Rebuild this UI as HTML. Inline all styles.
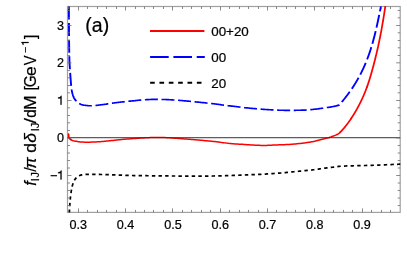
<!DOCTYPE html><html><head><meta charset="utf-8"><style>
html,body{margin:0;padding:0;background:#fff}
body{width:407px;height:268px;position:relative;overflow:hidden}svg{will-change:transform}
</style></head><body>
<svg width="407" height="268" viewBox="0 0 407 268" style="position:absolute;left:0;top:0">
<defs><clipPath id="c"><rect x="67.00" y="6.00" width="333.70" height="206.90"/></clipPath></defs>
<rect x="67.5" y="6.5" width="332.70" height="205.90" fill="none" stroke="#a0a0a0" stroke-width="1.2"/>
<g clip-path="url(#c)" fill="none" stroke-linejoin="round">
<path d="M69.40 212.40L69.44 211.40L69.48 210.40L69.53 209.40L69.58 208.40L69.64 207.40L69.71 206.40L69.77 205.40L69.84 204.40L69.92 203.40L69.99 202.41L70.07 201.41L70.16 200.41L70.25 199.42L70.35 198.42L70.45 197.42L70.57 196.43L70.68 195.43L70.81 194.44L70.94 193.45L71.08 192.46L71.22 191.47L71.38 190.47L71.55 189.48L71.73 188.49L71.94 187.51L72.16 186.53L72.40 185.57L72.67 184.61L72.98 183.64L73.33 182.67L73.72 181.72L74.16 180.80L74.63 179.94L75.14 179.14L75.74 178.36L76.44 177.59L77.22 176.87L78.05 176.26L78.90 175.78L79.78 175.44L80.72 175.14L81.71 174.87L82.73 174.67L83.74 174.53L84.73 174.48L85.72 174.43L86.72 174.40L87.72 174.36L88.73 174.34L89.73 174.32L90.74 174.31L91.74 174.30L92.74 174.30L93.74 174.31L94.74 174.32L95.74 174.34L96.74 174.37L97.75 174.39L98.75 174.42L99.75 174.46L100.75 174.49L101.75 174.52L102.75 174.55L103.75 174.58L104.75 174.61L105.75 174.64L106.75 174.67L107.75 174.70L108.75 174.72L109.75 174.75L110.75 174.78L111.75 174.81L112.75 174.85L113.76 174.88L114.76 174.91L115.76 174.95L116.76 174.99L117.76 175.03L118.76 175.07L119.76 175.12L120.76 175.16L121.76 175.20L122.76 175.24L123.76 175.28L124.76 175.31L125.76 175.34L126.76 175.37L127.76 175.39L128.76 175.42L129.76 175.45L130.76 175.47L131.76 175.49L132.76 175.51L133.76 175.53L134.76 175.55L135.77 175.57L136.77 175.59L137.77 175.60L138.77 175.62L139.77 175.63L140.77 175.64L141.77 175.66L142.77 175.67L143.77 175.68L144.77 175.70L145.77 175.71L146.78 175.72L147.78 175.73L148.78 175.74L149.78 175.75L150.78 175.76L151.78 175.78L152.78 175.79L153.78 175.80L154.78 175.81L155.78 175.82L156.79 175.83L157.79 175.84L158.79 175.85L159.79 175.87L160.79 175.88L161.79 175.89L162.79 175.90L163.79 175.91L164.79 175.92L165.79 175.93L166.79 175.94L167.80 175.95L168.80 175.96L169.80 175.97L170.80 175.98L171.80 175.98L172.80 175.99L173.80 176.00L174.80 176.01L175.80 176.01L176.80 176.02L177.81 176.03L178.81 176.03L179.81 176.04L180.81 176.05L181.81 176.05L182.81 176.06L183.81 176.07L184.81 176.07L185.81 176.08L186.81 176.08L187.82 176.09L188.82 176.09L189.82 176.09L190.82 176.10L191.82 176.10L192.82 176.10L193.82 176.10L194.82 176.10L195.82 176.10L196.82 176.10L197.83 176.10L198.83 176.10L199.83 176.10L200.83 176.10L201.83 176.10L202.83 176.10L203.83 176.10L204.83 176.10L205.83 176.10L206.83 176.09L207.83 176.08L208.84 176.07L209.84 176.06L210.84 176.04L211.84 176.03L212.84 176.01L213.84 175.99L214.84 175.97L215.84 175.95L216.84 175.93L217.84 175.90L218.84 175.88L219.85 175.86L220.85 175.83L221.85 175.81L222.85 175.78L223.85 175.76L224.85 175.73L225.85 175.71L226.85 175.68L227.85 175.65L228.85 175.62L229.85 175.58L230.85 175.55L231.85 175.51L232.85 175.47L233.85 175.43L234.85 175.39L235.85 175.35L236.85 175.31L237.85 175.27L238.85 175.23L239.85 175.19L240.85 175.14L241.85 175.10L242.85 175.06L243.85 175.02L244.85 174.98L245.85 174.94L246.85 174.90L247.86 174.86L248.86 174.81L249.86 174.77L250.86 174.73L251.86 174.69L252.86 174.65L253.86 174.61L254.86 174.56L255.86 174.52L256.86 174.47L257.86 174.43L258.86 174.38L259.86 174.33L260.86 174.29L261.86 174.24L262.86 174.19L263.85 174.13L264.85 174.08L265.85 174.03L266.85 173.97L267.85 173.91L268.85 173.85L269.85 173.78L270.85 173.72L271.85 173.65L272.85 173.58L273.85 173.51L274.84 173.44L275.84 173.37L276.84 173.29L277.84 173.22L278.84 173.14L279.83 173.06L280.83 172.98L281.83 172.90L282.83 172.81L283.82 172.72L284.82 172.64L285.82 172.54L286.81 172.45L287.81 172.35L288.81 172.25L289.80 172.15L290.80 172.05L291.79 171.94L292.79 171.84L293.79 171.74L294.78 171.64L295.78 171.54L296.77 171.44L297.77 171.34L298.77 171.24L299.76 171.14L300.76 171.04L301.75 170.94L302.75 170.84L303.75 170.75L304.74 170.65L305.74 170.55L306.74 170.46L307.73 170.37L308.73 170.27L309.73 170.18L310.72 170.08L311.72 169.98L312.71 169.88L313.71 169.77L314.70 169.65L315.69 169.52L316.68 169.38L317.67 169.23L318.66 169.08L319.65 168.92L320.64 168.76L321.63 168.60L322.62 168.45L323.61 168.31L324.60 168.17L325.60 168.05L326.59 167.93L327.58 167.81L328.58 167.70L329.57 167.58L330.57 167.47L331.56 167.36L332.56 167.24L333.55 167.12L334.54 166.99L335.54 166.86L336.53 166.73L337.52 166.59L338.51 166.44L339.50 166.30L339.50 166.30L340.51 166.25L341.53 166.20L342.54 166.15L343.56 166.10L344.57 166.05L345.59 166.01L346.60 165.97L347.62 165.94L348.63 165.90L349.65 165.87L350.66 165.85L351.68 165.82L352.69 165.79L353.71 165.77L354.72 165.75L355.74 165.72L356.75 165.70L357.77 165.68L358.79 165.66L359.80 165.64L360.82 165.61L361.83 165.59L362.85 165.57L363.86 165.54L364.88 165.52L365.89 165.49L366.91 165.46L367.92 165.43L368.94 165.40L369.95 165.37L370.97 165.33L371.98 165.30L373.00 165.26L374.01 165.23L375.03 165.19L376.04 165.15L377.06 165.11L378.07 165.07L379.09 165.04L380.10 165.00L381.12 164.96L382.13 164.91L383.15 164.87L384.16 164.83L385.18 164.79L386.19 164.75L387.21 164.71L388.22 164.67L389.24 164.63L390.25 164.59L391.27 164.55L392.28 164.50L393.30 164.46L394.31 164.42L395.33 164.37L396.34 164.33L397.36 164.29L398.37 164.24L399.39 164.20L400.40 164.15" stroke="#000" stroke-width="1.7" stroke-dasharray="3.42 3.22" stroke-dashoffset="0.55"/>
<path d="M79.19 103.51L79.85 103.88L80.74 104.26L81.68 104.60L82.67 104.88L83.66 105.11L84.64 105.27L85.63 105.41L86.63 105.55L87.63 105.66L88.63 105.75L89.64 105.79L90.64 105.80L91.64 105.77L91.85 105.75M95.44 105.48L95.64 105.46L96.64 105.37L97.64 105.27L98.63 105.16L99.63 105.04L100.62 104.91L101.62 104.77L102.61 104.63L103.60 104.50L104.60 104.36L105.59 104.22L106.58 104.07L107.57 103.92L108.33 103.80M111.89 103.26L112.53 103.16L113.52 103.02L114.52 102.88L115.51 102.76L116.50 102.63L117.50 102.50L118.50 102.38L119.49 102.26L120.49 102.15L121.48 102.03L122.48 101.92L123.48 101.81L124.47 101.70L124.79 101.67M128.37 101.30L128.46 101.29L129.46 101.19L130.46 101.10L131.46 101.00L132.45 100.91L133.45 100.81L134.45 100.71L135.45 100.62L136.45 100.51L137.44 100.40L138.44 100.30L139.44 100.19L140.44 100.09L141.30 100.01M144.90 99.76L145.43 99.72L146.44 99.67L147.44 99.61L148.44 99.56L149.44 99.52L150.44 99.48L151.45 99.44L152.45 99.42L153.45 99.40L154.45 99.40L155.46 99.40L156.46 99.41L157.46 99.41L157.89 99.42M161.49 99.46L162.48 99.47L163.48 99.49L164.48 99.51L165.48 99.53L166.48 99.56L167.49 99.61L168.49 99.65L169.49 99.71L170.49 99.77L171.49 99.83L172.49 99.89L173.49 99.95L174.47 100.01M178.06 100.26L178.49 100.30L179.49 100.38L180.49 100.46L181.49 100.55L182.49 100.63L183.49 100.72L184.49 100.81L185.49 100.90L186.49 100.99L187.48 101.09L188.48 101.19L189.48 101.29L190.48 101.39L191.01 101.45M194.59 101.81L195.47 101.90L196.46 101.99L197.46 102.09L198.46 102.19L199.46 102.29L200.46 102.39L201.45 102.48L202.45 102.58L203.45 102.68L204.45 102.78L205.44 102.89L206.44 102.99L207.44 103.09L207.53 103.09M211.11 103.46L211.43 103.50L212.43 103.61L213.42 103.72L214.42 103.84L215.41 103.96L216.41 104.10L217.40 104.24L218.39 104.38L219.38 104.52L220.38 104.67L221.37 104.81L222.36 104.95L223.35 105.09L223.99 105.17M227.57 105.62L228.33 105.71L229.33 105.83L230.32 105.94L231.32 106.06L232.31 106.18L233.31 106.29L234.30 106.41L235.30 106.53L236.30 106.65L237.29 106.78L238.29 106.90L239.28 107.02L240.28 107.14L240.48 107.16M244.05 107.57L244.26 107.60L245.26 107.70L246.26 107.81L247.25 107.91L248.25 108.01L249.25 108.12L250.25 108.21L251.24 108.31L252.24 108.40L253.24 108.50L254.24 108.59L255.24 108.67L256.24 108.76L256.99 108.82M260.58 109.11L261.23 109.16L262.23 109.24L263.23 109.31L264.23 109.38L265.23 109.45L266.24 109.52L267.24 109.58L268.24 109.65L269.24 109.71L270.24 109.78L271.24 109.83L272.24 109.89L273.24 109.94L273.55 109.95M277.15 110.11L277.25 110.11L278.25 110.16L279.25 110.20L280.26 110.23L281.26 110.26L282.26 110.28L283.26 110.30L284.27 110.30L285.27 110.30L286.27 110.30L287.27 110.30L288.28 110.30L289.28 110.30L290.15 110.30M293.75 110.30L294.29 110.30L295.29 110.30L296.30 110.29L297.30 110.28L298.30 110.26L299.31 110.24L300.31 110.21L301.31 110.19L302.31 110.16L303.32 110.13L304.32 110.10L305.32 110.06L306.32 110.00L306.74 109.98M310.33 109.69L311.32 109.60L312.32 109.50L313.32 109.40L314.31 109.30L315.31 109.19L316.30 109.07L317.30 108.95L318.29 108.81L319.28 108.67L320.28 108.52L321.27 108.37L322.26 108.22L323.22 108.08M326.79 107.56L327.22 107.49L328.22 107.35L329.21 107.21L330.21 107.06L331.20 106.90L332.19 106.74L333.17 106.56L334.15 106.37L335.13 106.16L336.10 105.93L337.07 105.67L338.04 105.39L339.00 105.10L339.35 104.71" stroke="#0000ff" stroke-width="1.65"/>
<path d="M341.73 102.01L342.33 101.32L342.98 100.55L343.62 99.77L344.26 98.99L344.89 98.21L345.51 97.41L346.13 96.62L346.75 95.82L347.36 95.02L347.96 94.21L348.56 93.40L349.15 92.59L349.74 91.77" stroke="#0000ff" stroke-width="1.80"/>
<path d="M71.59 89.41L71.62 89.64L71.77 90.62L71.95 91.61L72.17 92.60L72.42 93.59L72.71 94.57L73.02 95.53L73.36 96.46L73.73 97.37L74.17 98.25L74.70 99.13L75.30 99.96L75.94 100.73L76.42 101.23M351.79 88.82L352.03 88.46L352.59 87.62L353.15 86.78L353.70 85.93L354.24 85.08L354.77 84.23L355.30 83.37L355.82 82.51L356.34 81.64L356.85 80.78L357.36 79.90L357.85 79.03L358.35 78.15L358.58 77.73M360.28 74.56L360.72 73.71L361.18 72.81L361.63 71.91L362.07 71.00L362.51 70.09L362.94 69.18L363.36 68.27L363.78 67.35L364.19 66.43L364.60 65.51L365.00 64.59L365.39 63.66L365.76 62.78M367.10 59.44L367.27 58.99L367.63 58.04L367.99 57.10L368.33 56.15L368.68 55.21L369.01 54.26L369.34 53.31L369.67 52.35L369.99 51.40L370.31 50.44L370.62 49.48L370.92 48.52L371.22 47.56L371.35 47.15" stroke="#0000ff" stroke-width="1.85"/>
<path d="M68.90 6.50L68.90 7.50L68.90 8.51L68.90 9.51L68.90 10.51L68.91 11.51L68.91 12.52L68.91 13.52L68.92 14.52L68.92 15.52L68.92 16.53L68.93 17.53L68.93 18.53L68.94 19.50M68.96 23.10L68.96 23.55L68.97 24.55L68.97 25.55L68.98 26.55L68.98 27.56L68.99 28.56L69.00 29.56L69.00 30.56L69.01 31.57L69.02 32.57L69.02 33.57L69.03 34.58L69.04 35.58L69.04 36.10M69.07 39.70L69.08 40.59L69.09 41.60L69.10 42.60L69.12 43.60L69.13 44.60L69.14 45.61L69.15 46.61L69.17 47.61L69.18 48.62L69.20 49.62L69.21 50.62L69.23 51.62L69.25 52.63L69.25 52.70M69.32 56.30L69.32 56.63L69.35 57.64L69.37 58.64L69.39 59.64L69.42 60.64L69.46 61.64L69.50 62.64L69.56 63.65L69.62 64.65L69.69 65.65L69.76 66.65L69.83 67.65L69.90 68.65L69.95 69.28M70.18 72.87L70.23 73.65L70.29 74.65L70.36 75.65L70.43 76.65L70.50 77.65L70.58 78.65L70.66 79.65L70.74 80.65L70.82 81.65L70.90 82.66L70.98 83.66L71.06 84.66L71.16 85.67L71.17 85.83M372.38 43.70L372.38 43.70L372.66 42.73L372.93 41.76L373.20 40.79L373.46 39.82L373.72 38.84L373.98 37.87L374.23 36.89L374.48 35.92L374.72 34.94L374.97 33.96L375.21 32.99L375.44 32.01L375.65 31.12M376.47 27.62L376.59 27.10L376.81 26.12L377.03 25.13L377.25 24.15L377.46 23.17L377.67 22.18L377.89 21.20L378.10 20.21L378.30 19.23L378.51 18.24L378.72 17.25L378.93 16.27L379.13 15.28L379.21 14.91M379.94 11.38L379.95 11.33L380.15 10.35L380.35 9.36L380.55 8.37L380.76 7.39L380.96 6.40" stroke="#0000ff" stroke-width="1.90"/>
<path d="M76.12 141.34L76.33 141.38L77.33 141.54L78.33 141.68L79.32 141.78L80.31 141.88L81.31 141.97L82.00 142.02M82.00 142.02L82.31 142.05L83.31 142.11L84.31 142.16L85.31 142.19L86.31 142.20L87.31 142.19L87.91 142.18M87.91 142.18L88.31 142.18L89.31 142.15L90.31 142.13L91.31 142.09L92.31 142.06L93.31 142.02L93.83 142.01M93.83 142.01L94.31 141.99L95.30 141.95L96.30 141.90L97.30 141.84L98.30 141.78L99.30 141.72L99.74 141.69M99.74 141.69L100.30 141.65L101.29 141.58L102.29 141.50L103.29 141.41L104.28 141.32L105.28 141.22L105.63 141.19M105.63 141.19L106.27 141.12L107.27 141.02L108.26 140.92L109.26 140.82L110.25 140.71L111.25 140.61L111.52 140.58M111.52 140.58L112.24 140.50L113.24 140.39L114.23 140.28L115.22 140.17L116.22 140.05L117.21 139.94L117.40 139.92M117.40 139.92L118.21 139.83L119.20 139.73L120.19 139.63L121.19 139.54L122.19 139.45L123.18 139.36L123.29 139.35M123.29 139.35L124.18 139.28L125.18 139.20L126.17 139.12L127.17 139.05L128.17 138.97L129.17 138.90L129.19 138.90M129.19 138.90L130.16 138.82L131.16 138.75L132.16 138.68L133.16 138.61L134.15 138.53L135.09 138.46M135.09 138.46L135.15 138.46L136.15 138.39L137.15 138.32L138.14 138.25L139.14 138.19L140.14 138.12L141.00 138.07M141.00 138.07L141.14 138.06L142.14 138.00L143.13 137.95L144.13 137.90L145.13 137.85L146.13 137.79L146.91 137.75M146.91 137.75L147.13 137.74L148.13 137.69L149.13 137.64L150.13 137.59L151.13 137.56L152.13 137.53L152.82 137.51M152.82 137.51L153.13 137.51L154.13 137.50L155.13 137.50L156.13 137.50L157.13 137.51L158.13 137.52L158.74 137.52M158.74 137.52L159.13 137.53L160.13 137.54L161.13 137.55L162.13 137.57L163.13 137.58L164.13 137.60L164.66 137.61M164.66 137.61L165.13 137.62L166.12 137.65L167.12 137.70L168.12 137.75L169.12 137.81L170.12 137.87L170.57 137.90M170.57 137.90L171.12 137.94L172.12 138.01L173.11 138.07L174.11 138.14L175.11 138.20L176.11 138.27L176.47 138.30M176.47 138.30L177.11 138.34L178.10 138.41L179.10 138.49L180.10 138.57L181.09 138.64L182.09 138.72L182.37 138.74M182.37 138.74L183.09 138.80L184.09 138.88L185.08 138.95L186.08 139.03L187.08 139.11L188.07 139.18L188.27 139.20M188.27 139.20L189.07 139.26L190.07 139.34L191.07 139.42L192.06 139.50L193.06 139.58L194.06 139.66L194.17 139.67M194.17 139.67L195.05 139.75L196.05 139.83L197.05 139.92L198.04 140.01L199.04 140.09L200.03 140.18L200.07 140.19M200.07 140.19L201.03 140.27L202.03 140.36L203.02 140.46L204.02 140.55L205.01 140.64L205.96 140.72M205.96 140.72L206.01 140.73L207.01 140.82L208.00 140.91L209.00 141.00L209.99 141.09L210.99 141.18L211.85 141.27M211.85 141.27L211.98 141.28L212.98 141.38L213.97 141.49L214.97 141.60L215.96 141.72L216.95 141.84L217.73 141.95M217.73 141.95L217.94 141.97L218.93 142.11L219.93 142.24L220.92 142.38L221.91 142.51L222.90 142.64L223.60 142.73M223.60 142.73L223.89 142.76L224.89 142.88L225.88 143.00L226.87 143.13L227.87 143.25L228.86 143.37L229.47 143.44M229.47 143.44L229.85 143.48L230.85 143.59L231.84 143.70L232.84 143.79L233.83 143.87L234.83 143.94L235.36 143.98M235.36 143.98L235.83 144.01L236.82 144.07L237.82 144.12L238.82 144.17L239.82 144.22L240.82 144.27L241.27 144.29M241.27 144.29L241.82 144.31L242.82 144.37L243.82 144.42L244.82 144.48L245.81 144.55L246.81 144.63L247.18 144.65M247.18 144.65L247.81 144.70L248.81 144.78L249.80 144.86L250.80 144.94L251.80 145.01L252.80 145.07L253.08 145.08M253.08 145.08L253.79 145.12L254.79 145.17L255.79 145.21L256.79 145.25L257.79 145.29L258.79 145.33L259.00 145.34M259.00 145.34L259.79 145.36L260.79 145.39L261.79 145.42L262.79 145.44L263.79 145.45L264.79 145.45L264.91 145.45M264.91 145.45L265.79 145.44L266.79 145.41L267.79 145.36L268.79 145.31L269.78 145.26L270.78 145.20L270.82 145.20M270.82 145.20L271.78 145.14L272.78 145.08L273.78 145.03L274.78 144.99L275.78 144.96L276.73 144.93M276.73 144.93L276.78 144.93L277.78 144.90L278.78 144.87L279.78 144.84L280.78 144.82L281.78 144.79L282.65 144.76M282.65 144.76L282.78 144.75L283.78 144.71L284.78 144.67L285.77 144.62L286.77 144.57L287.77 144.51L288.56 144.46M288.56 144.46L288.77 144.45L289.77 144.38L290.77 144.31L291.76 144.24L292.76 144.16L293.76 144.09L294.46 144.03M294.46 144.03L294.75 144.00L295.75 143.91L296.75 143.82L297.74 143.72L298.73 143.61L299.73 143.50L300.35 143.42M300.35 143.42L300.72 143.38L301.72 143.26L302.71 143.14L303.70 143.01L304.69 142.89L305.68 142.75L306.22 142.68M306.22 142.68L306.67 142.61L307.66 142.47L308.65 142.32L309.64 142.16L310.63 142.00L311.61 141.82L312.06 141.74M312.06 141.74L312.60 141.64L313.58 141.45L314.56 141.25L315.53 141.02L316.50 140.79L317.47 140.54L317.84 140.45M317.84 140.45L318.44 140.30L319.41 140.05L320.38 139.81L321.35 139.57L322.32 139.32L323.29 139.08L323.58 139.01M323.58 139.01L324.26 138.84L325.23 138.59L326.20 138.35L327.17 138.10L328.14 137.84L329.09 137.55L329.29 137.48" stroke="#ff0000" stroke-width="1.50" stroke-linecap="round"/>
<path d="M70.57 139.44L70.66 139.51L71.52 140.01L72.46 140.42L73.40 140.72L74.36 140.97L75.34 141.19L76.12 141.34M329.29 137.48L330.04 137.24L330.99 136.92L331.93 136.58L332.87 136.23L333.81 135.87L334.74 135.51L334.85 135.46M334.85 135.46L335.66 135.13L336.58 134.73L337.49 134.32L338.40 133.90L339.13 133.22L339.86 132.52L339.88 132.50" stroke="#ff0000" stroke-width="1.55" stroke-linecap="round"/>
<path d="M339.88 132.50L340.57 131.82L341.27 131.10L341.96 130.38L342.63 129.64L343.30 128.90L343.92 128.18M343.92 128.18L343.96 128.14L344.60 127.37L345.24 126.60L345.87 125.82L346.49 125.03L347.10 124.24L347.62 123.55M347.62 123.55L347.70 123.44L348.29 122.63L348.87 121.82L349.45 121.00L350.02 120.17L350.58 119.34L351.01 118.70" stroke="#ff0000" stroke-width="1.65" stroke-linecap="round"/>
<path d="M68.60 134.20L68.63 135.29L68.72 136.30L68.85 137.23L69.16 138.09L69.86 138.88L70.57 139.44M351.01 118.70L351.13 118.51L351.68 117.67L352.23 116.84L352.77 115.99L353.30 115.14L353.83 114.29L354.18 113.71M354.18 113.71L354.35 113.44L354.87 112.58L355.38 111.72L355.88 110.85L356.38 109.99L356.87 109.11L357.16 108.60M357.16 108.60L357.36 108.24L357.84 107.36L358.31 106.48L358.78 105.60L359.25 104.71L359.70 103.82L359.93 103.37M359.93 103.37L360.16 102.92L360.60 102.03L361.04 101.13L361.47 100.22L361.90 99.32L362.32 98.41L362.49 98.03M362.49 98.03L362.74 97.50L363.15 96.59L363.55 95.67L363.94 94.75L364.33 93.83L364.71 92.90L364.84 92.60M364.84 92.60L365.09 91.97L365.46 91.04L365.82 90.11L366.18 89.18L366.53 88.24L366.88 87.30L366.96 87.08" stroke="#ff0000" stroke-width="1.70" stroke-linecap="round"/>
<path d="M366.96 87.08L367.21 86.36L367.55 85.41L367.87 84.47L368.20 83.52L368.51 82.57L368.82 81.62L368.87 81.48M368.87 81.48L369.13 80.66L369.43 79.71L369.73 78.75L370.02 77.80L370.31 76.84L370.60 75.88L370.61 75.82M370.61 75.82L370.88 74.92L371.15 73.96L371.43 72.99L371.70 72.03L371.97 71.06L372.23 70.13M372.23 70.13L372.23 70.10L372.50 69.13L372.76 68.17L373.02 67.20L373.28 66.23L373.54 65.27L373.76 64.41M373.76 64.41L373.79 64.30L374.04 63.33L374.30 62.36L374.55 61.39L374.79 60.42L375.04 59.45L375.23 58.68M375.23 58.68L375.28 58.48L375.52 57.51L375.76 56.54L376.00 55.56L376.23 54.59L376.47 53.62L376.63 52.93M376.63 52.93L376.70 52.64L376.93 51.67L377.15 50.69L377.38 49.72L377.60 48.74L377.82 47.76L377.95 47.16M377.95 47.16L378.04 46.79L378.25 45.81L378.46 44.83L378.67 43.85L378.88 42.87L379.09 41.89L379.20 41.38M379.20 41.38L379.29 40.91L379.49 39.93L379.69 38.95L379.89 37.97L380.09 36.99L380.28 36.01L380.36 35.57M380.36 35.57L380.47 35.03L380.66 34.04L380.85 33.06L381.04 32.08L381.22 31.09L381.41 30.11L381.47 29.76M381.47 29.76L381.59 29.12L381.77 28.14L381.94 27.15L382.12 26.17L382.29 25.18L382.46 24.19L382.50 23.93M382.50 23.93L382.63 23.21L382.79 22.22L382.96 21.23L383.12 20.25L383.29 19.26L383.45 18.27L383.48 18.10M383.48 18.10L383.61 17.28L383.77 16.29L383.93 15.31L384.09 14.32L384.24 13.33L384.39 12.34L384.41 12.25M384.41 12.25L384.54 11.35L384.70 10.36L384.85 9.37L384.99 8.38L385.14 7.39L385.29 6.40" stroke="#ff0000" stroke-width="1.75" stroke-linecap="round"/>
</g>
<line x1="67.5" y1="137.68" x2="400.2" y2="137.68" stroke="#303030" stroke-opacity="0.78" stroke-width="1.25"/>
<path d="M68.50 212.4v-2.5M68.50 6.5v2.5M78.50 212.4v-4.0M78.50 6.5v4.0M87.50 212.4v-2.5M87.50 6.5v2.5M97.50 212.4v-2.5M97.50 6.5v2.5M106.50 212.4v-2.5M106.50 6.5v2.5M116.50 212.4v-2.5M116.50 6.5v2.5M125.50 212.4v-4.0M125.50 6.5v4.0M135.50 212.4v-2.5M135.50 6.5v2.5M144.50 212.4v-2.5M144.50 6.5v2.5M153.50 212.4v-2.5M153.50 6.5v2.5M163.50 212.4v-2.5M163.50 6.5v2.5M172.50 212.4v-4.0M172.50 6.5v4.0M182.50 212.4v-2.5M182.50 6.5v2.5M191.50 212.4v-2.5M191.50 6.5v2.5M201.50 212.4v-2.5M201.50 6.5v2.5M210.50 212.4v-2.5M210.50 6.5v2.5M220.50 212.4v-4.0M220.50 6.5v4.0M229.50 212.4v-2.5M229.50 6.5v2.5M239.50 212.4v-2.5M239.50 6.5v2.5M248.50 212.4v-2.5M248.50 6.5v2.5M258.50 212.4v-2.5M258.50 6.5v2.5M267.50 212.4v-4.0M267.50 6.5v4.0M276.50 212.4v-2.5M276.50 6.5v2.5M286.50 212.4v-2.5M286.50 6.5v2.5M295.50 212.4v-2.5M295.50 6.5v2.5M305.50 212.4v-2.5M305.50 6.5v2.5M314.50 212.4v-4.0M314.50 6.5v4.0M324.50 212.4v-2.5M324.50 6.5v2.5M333.50 212.4v-2.5M333.50 6.5v2.5M343.50 212.4v-2.5M343.50 6.5v2.5M352.50 212.4v-2.5M352.50 6.5v2.5M362.50 212.4v-4.0M362.50 6.5v4.0M371.50 212.4v-2.5M371.50 6.5v2.5M381.50 212.4v-2.5M381.50 6.5v2.5M390.50 212.4v-2.5M390.50 6.5v2.5M67.5 205.50h2.5M400.2 205.50h-2.5M67.5 198.00h2.5M400.2 198.00h-2.5M67.5 190.50h2.5M400.2 190.50h-2.5M67.5 183.00h2.5M400.2 183.00h-2.5M67.5 175.50h4.0M400.2 175.50h-4.0M67.5 168.00h2.5M400.2 168.00h-2.5M67.5 160.50h2.5M400.2 160.50h-2.5M67.5 153.00h2.5M400.2 153.00h-2.5M67.5 145.50h2.5M400.2 145.50h-2.5M67.5 138.00h4.0M400.2 138.00h-4.0M67.5 130.50h2.5M400.2 130.50h-2.5M67.5 122.80h2.5M400.2 122.80h-2.5M67.5 115.50h2.5M400.2 115.50h-2.5M67.5 107.80h2.5M400.2 107.80h-2.5M67.5 100.50h4.0M400.2 100.50h-4.0M67.5 92.80h2.5M400.2 92.80h-2.5M67.5 85.50h2.5M400.2 85.50h-2.5M67.5 77.80h2.5M400.2 77.80h-2.5M67.5 70.50h2.5M400.2 70.50h-2.5M67.5 62.80h4.0M400.2 62.80h-4.0M67.5 55.50h2.5M400.2 55.50h-2.5M67.5 47.80h2.5M400.2 47.80h-2.5M67.5 40.50h2.5M400.2 40.50h-2.5M67.5 32.80h2.5M400.2 32.80h-2.5M67.5 25.50h4.0M400.2 25.50h-4.0M67.5 17.80h2.5M400.2 17.80h-2.5M67.5 10.50h2.5M400.2 10.50h-2.5" stroke="#6c6c6c" stroke-width="0.8" fill="none"/>
<path d="M150 31H204.4" stroke="#ff0000" stroke-width="2.1"/>
<path d="M150.1 57.05H204.8" stroke="#0000ff" stroke-width="2.1" stroke-dasharray="18.6 4.7"/>
<path d="M150.1 82.8H201.8" stroke="#000" stroke-width="2.0" stroke-dasharray="4.65 4.7"/>
<g font-family="Liberation Sans, sans-serif" fill="#000" stroke="#000" stroke-width="0.22">
<text x="78.30" y="228.80" font-size="12.6" text-anchor="middle" >0.3</text>
<text x="125.60" y="228.80" font-size="12.6" text-anchor="middle" >0.4</text>
<text x="172.90" y="228.80" font-size="12.6" text-anchor="middle" >0.5</text>
<text x="220.20" y="228.80" font-size="12.6" text-anchor="middle" >0.6</text>
<text x="267.50" y="228.80" font-size="12.6" text-anchor="middle" >0.7</text>
<text x="314.80" y="228.80" font-size="12.6" text-anchor="middle" >0.8</text>
<text x="362.10" y="228.80" font-size="12.6" text-anchor="middle" >0.9</text>
<text x="64.00" y="30.05" font-size="12.6" text-anchor="end" >3</text>
<text x="64.00" y="67.45" font-size="12.6" text-anchor="end" >2</text>
<path d="M61.59 104.75L61.59 95.82L60.87 95.82C60.58 96.81 59.61 97.47 57.97 97.62L57.97 98.41L60.47 98.41L60.47 104.75Z"/>
<text x="64.00" y="142.25" font-size="12.6" text-anchor="end" >0</text>
<path d="M61.59 179.55L61.59 170.62L60.87 170.62C60.58 171.61 59.61 172.27 57.97 172.42L57.97 173.21L60.47 173.21L60.47 179.55Z"/>
<text x="50.10" y="179.65" font-size="12.6" text-anchor="start" >−</text>
<text x="85.30" y="31.70" font-size="19.5" text-anchor="start" >(a)</text>
<text x="211.20" y="36.10" font-size="13.4" text-anchor="start" >00+20</text>
<text x="211.20" y="62.00" font-size="13.4" text-anchor="start" >00</text>
<text x="211.20" y="88.40" font-size="13.4" text-anchor="start" >20</text>
<g transform="translate(36.2,185.5) rotate(-90)" font-size="16">
<text transform="translate(-0.28,0.00) scale(1.000,1)" font-size="16" font-style="italic">f</text>
<text transform="translate(4.32,2.55) scale(1.000,1)" font-size="11">I</text>
<text transform="translate(8.03,2.55) scale(0.986,1)" font-size="11">J</text>
<text transform="translate(13.70,0.00) scale(1.012,1)" font-size="16">/</text>
<text transform="translate(16.74,0.00) scale(1.073,1)" font-size="16" font-style="italic">π</text>
<text transform="translate(32.82,0.00) scale(1.091,1)" font-size="16">d</text>
<text transform="translate(42.63,0.00) scale(1.093,1)" font-size="16" font-style="italic">δ</text>
<text transform="translate(54.20,2.55) scale(1.000,1)" font-size="11">I</text>
<text transform="translate(57.13,2.55) scale(0.997,1)" font-size="11">J</text>
<text transform="translate(62.12,0.00) scale(1.250,1)" font-size="16">/</text>
<text transform="translate(67.67,0.00) scale(0.945,1)" font-size="16">d</text>
<text transform="translate(75.46,0.00) scale(1.098,1)" font-size="16">M</text>
<text transform="translate(95.02,0.00) scale(1.000,1)" font-size="16">[</text>
<text transform="translate(98.32,0.00) scale(0.967,1)" font-size="16">G</text>
<text transform="translate(109.46,0.00) scale(1.092,1)" font-size="16">e</text>
<text transform="translate(120.24,0.00) scale(0.912,1)" font-size="16">V</text>
<text transform="translate(132.27,-7.00) scale(1.019,1)" font-size="10.5">−</text>
<path d="M143.41 -7.60L143.41 -14.83L142.83 -14.83C142.60 -14.03 141.81 -13.50 140.49 -13.37L140.49 -12.73L142.51 -12.73L142.51 -7.60Z"/>
<text transform="translate(146.49,0.00) scale(1.000,1)" font-size="16">]</text>
</g>
</g>
</svg>
</body></html>
